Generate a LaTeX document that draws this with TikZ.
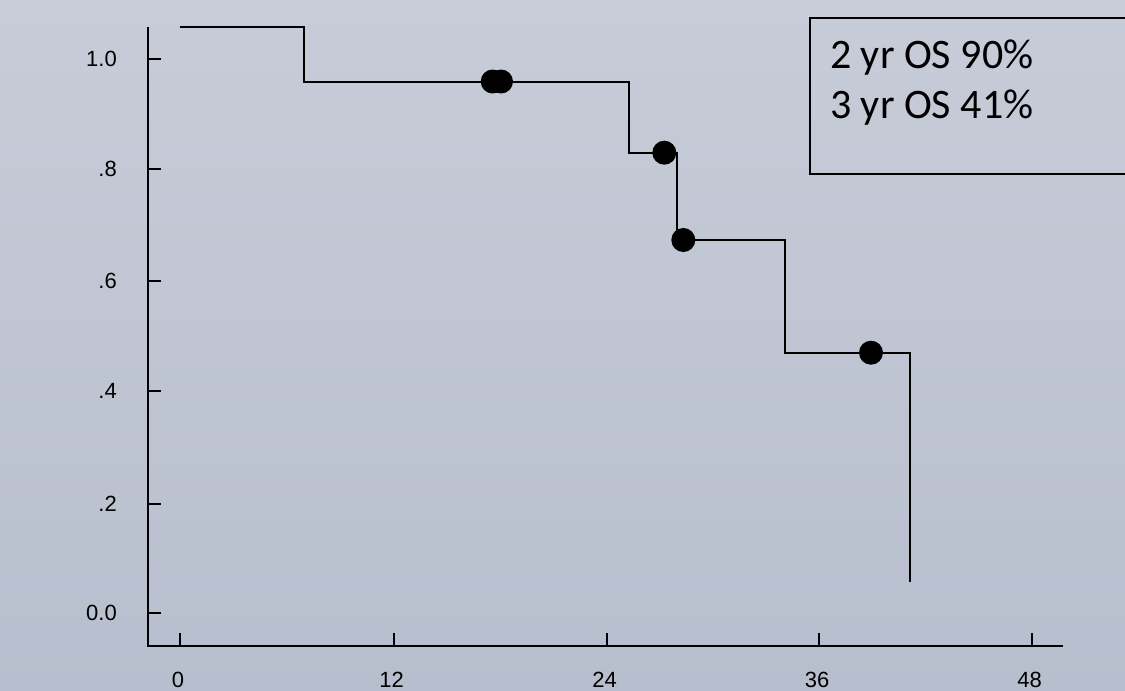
\documentclass[tikz,border=0pt]{standalone}
\usepackage{fontspec}
\setmainfont{Liberation Sans}
\newfontfamily\boxfont{Carlito}

\definecolor{bgtop}{RGB}{199,204,216}
\definecolor{bgbottom}{RGB}{183,190,205}

\tikzstyle{axis} = [draw,line width=2.4pt,-]
\tikzstyle{tick} = [draw,line width=2pt,-]
\tikzstyle{curve} = [draw,line width=2pt,-,line join=miter]
\tikzstyle{ticklabel} = [font=\fontsize{22}{26}\selectfont,inner sep=0pt]
\tikzstyle{censor} = [circle,fill=black,minimum size=24pt,inner sep=0pt]
\tikzstyle{legendtext} = [font=\boxfont\fontsize{42}{48}\selectfont,inner sep=0pt,anchor=base west]

\begin{document}
\begin{tikzpicture}[x=1pt,y=-1pt]
      %% background
      \fill[top color=bgtop,bottom color=bgbottom] (0,0) rectangle (1125,691);
      \useasboundingbox (0,0) rectangle (1125,691);

      % axes
      \coordinate (origin) at (148,646);
      \coordinate (ytop) at (148,27);
      \coordinate (xend) at (1063,646);
      \path[axis] (ytop) -- (origin) -- (xend);

      % y ticks and labels
      \foreach \ylabel/\y in {1.0/59, .8/168.5, .6/281, .4/391, .2/503.5, 0.0/613}
      {
        \path[tick] (148,\y) -- (161,\y);
        \node[ticklabel, anchor=east] at (117,\y) {\ylabel};
      }

      % x ticks and labels
      \foreach \xlabel/\x in {0/180, 12/393.7, 24/606.6, 36/819, 48/1031.7}
      {
        \path[tick] (\x,646) -- (\x,633);
        \node[ticklabel] at (\x-2,679.5) {\xlabel};
      }

      % survival steps
      \foreach \name/\x/\y in {
        p0/180/27, p1/304/27, p2/304/81.5, p3/629.3/81.5, p4/629.3/152.7,
        p5/676.7/152.7, p6/676.7/240, p7/785.3/240, p8/785.3/352.7,
        p9/909.5/352.7, p10/909.5/581.5}
      {
        \coordinate (\name) at (\x,\y);
      }
      \path[curve] (p0) -- (p1) -- (p2) -- (p3) -- (p4) -- (p5) -- (p6)
        -- (p7) -- (p8) -- (p9) -- (p10);

      % censored cases
      \foreach \name/\x/\y in {c1/492.7/81.5, c2/501/81.5, c3/664.3/152.7,
        c4/683.3/240, c5/871/352.7}
      {
        \node[censor] (\name) at (\x,\y) {};
      }

      % legend box
      \draw[line width=1.8pt] (810,18) rectangle (1135,174);
      \node[legendtext] (os2) at (830,68) {2 yr OS 90\%};
      \node[legendtext] (os3) at (830,118) {3 yr OS 41\%};
\end{tikzpicture}
\end{document}
